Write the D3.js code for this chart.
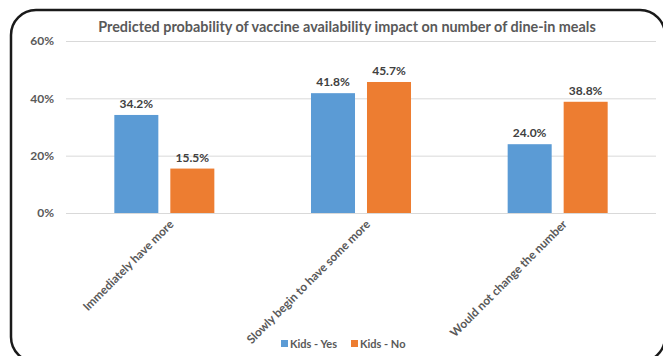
<!DOCTYPE html>
<html>
<head>
<meta charset="utf-8">
<script src="https://cdn.jsdelivr.net/npm/d3@7"></script>
<style>
  html, body { margin: 0; padding: 0; background: #fff; }
  svg { display: block; font-family: Lato, "Open Sans", "Liberation Sans", sans-serif; }
</style>
</head>
<body>
<svg id="chart" width="663" height="356"></svg>
<script>
// Chart data
const categories = ["Immediately have more", "Slowly begin to have some more", "Would not change the number"];
const seriesNames = ["Kids - Yes", "Kids - No"];
const kidsYes = [34.2, 41.8, 24.0];
const kidsNo = [15.5, 45.7, 38.8];
const yTicks = [0, 20, 40, 60];
const colors = ["#5B9BD5", "#ED7D31"];
const title = "Predicted probability of vaccine availability impact on number of dine-in meals";

const series = [kidsYes, kidsNo];
const svg = d3.select("#chart");
const textColor = "#595959";

// Plot area
const plot = { left: 66, right: 656, top: 41, bottom: 213 };

const x = d3.scaleBand().domain(categories).range([plot.left, plot.right]).paddingInner(0).paddingOuter(0);
const xInner = d3.scaleBand().domain(seriesNames).range([0, x.bandwidth()]).paddingInner(0.214).paddingOuter(0.863);
const y = d3.scaleLinear().domain([0, 60]).range([plot.bottom, plot.top]);

// Rounded frame around the whole chart
svg.append("rect")
  .attr("x", 11).attr("y", 10)
  .attr("width", 654).attr("height", 352)
  .attr("rx", 25).attr("ry", 25)
  .attr("fill", "none").attr("stroke", "#1a1a1a").attr("stroke-width", 2.5);

// Title
svg.append("text")
  .attr("x", 347).attr("y", 32)
  .attr("text-anchor", "middle")
  .attr("fill", textColor)
  .attr("font-size", 14.4).attr("font-weight", "bold")
  .text(title);

// Gridlines + y axis labels
const yAxis = d3.axisLeft(y).tickValues(yTicks).tickSize(-(plot.right - plot.left)).tickFormat(d => d + "%");
const gy = svg.append("g").attr("transform", `translate(${plot.left},0)`).call(yAxis);
gy.select(".domain").remove();
gy.selectAll(".tick line").attr("stroke", "#d9d9d9").attr("stroke-width", 1);
gy.selectAll(".tick text")
  .attr("x", -12)
  .attr("fill", textColor)
  .attr("font-size", 12).attr("font-weight", "bold")
  .attr("font-family", "Lato, 'Open Sans', sans-serif");

// Bars
const groups = svg.append("g").selectAll("g")
  .data(categories)
  .join("g")
  .attr("transform", d => `translate(${x(d)},0)`);

groups.selectAll("rect")
  .data((d, i) => seriesNames.map((s, j) => ({ s, v: series[j][i], j })))
  .join("rect")
  .attr("x", d => xInner(d.s))
  .attr("width", xInner.bandwidth())
  .attr("y", d => y(d.v))
  .attr("height", d => y(0) - y(d.v))
  .attr("fill", d => colors[d.j]);

// Value labels
groups.selectAll("text.val")
  .data((d, i) => seriesNames.map((s, j) => ({ s, v: series[j][i], j })))
  .join("text")
  .attr("class", "val")
  .attr("x", d => xInner(d.s) + xInner.bandwidth() / 2)
  .attr("y", d => y(d.v) - 7)
  .attr("text-anchor", "middle")
  .attr("fill", "#404040")
  .attr("font-size", 12).attr("font-weight", "bold")
  .text(d => d.v.toFixed(1) + "%");

// Category labels, rotated
const xAxis = d3.axisBottom(x).tickSize(0);
const gx = svg.append("g").attr("transform", `translate(0,${plot.bottom})`).call(xAxis);
gx.select(".domain").remove();
gx.selectAll(".tick text")
  .attr("fill", textColor)
  .attr("font-size", 11.8).attr("font-weight", "bold")
  .attr("font-family", "Lato, 'Open Sans', sans-serif")
  .attr("text-anchor", "end")
  .attr("dy", "0.35em")
  .attr("transform", "translate(5,7) rotate(-45)");

// Legend
const legend = svg.append("g").attr("transform", "translate(281,344)");
const legendX = [0, 70];
seriesNames.forEach((s, i) => {
  const g = legend.append("g").attr("transform", `translate(${legendX[i]},0)`);
  g.append("rect").attr("x", 0).attr("y", -4).attr("width", 7).attr("height", 7).attr("fill", colors[i]);
  g.append("text").attr("x", 9).attr("y", 0).attr("dy", "0.35em")
    .attr("fill", textColor).attr("font-size", 11).attr("font-weight", "bold")
    .text(s);
});
</script>
</body>
</html>
